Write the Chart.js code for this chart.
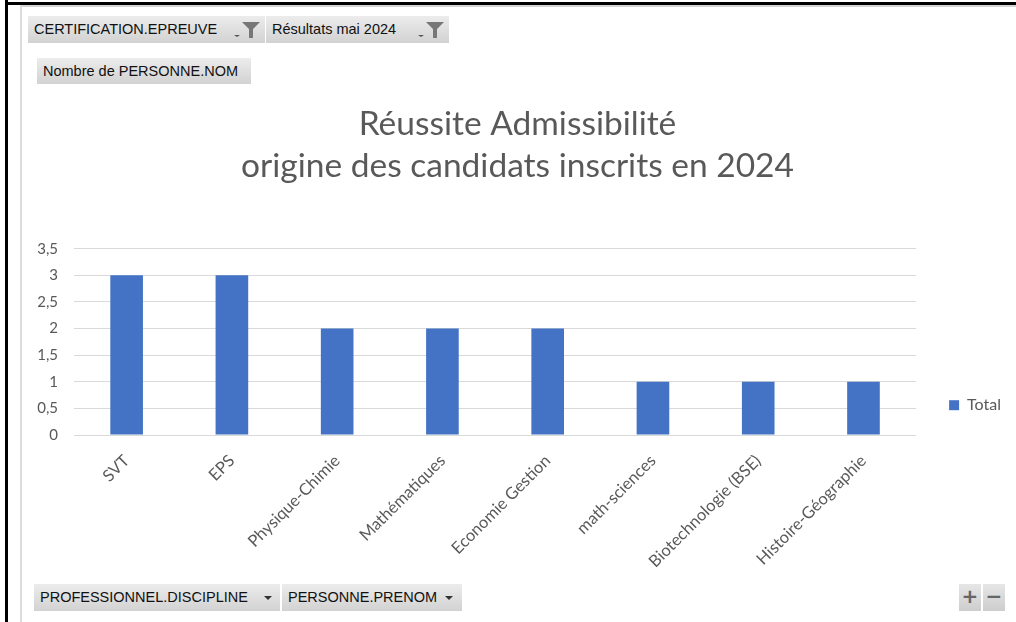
<!DOCTYPE html>
<html>
<head>
<meta charset="utf-8">
<script src="https://cdn.jsdelivr.net/npm/chart.js@4.4.1/dist/chart.umd.min.js"></script>
<style>
  html, body { margin: 0; padding: 0; background: #fff; }
  #page { position: relative; width: 1016px; height: 622px; overflow: hidden; background: #fff; }
  #chart { position: absolute; left: 0; top: 0; }
  .line { position: absolute; }
  .btn {
    position: absolute; height: 27px; line-height: 27px;
    background: linear-gradient(#ececec, #d2d2d2);
    font-family: "Liberation Sans", Arial, sans-serif; font-size: 14.5px; color: #111;
    padding-left: 6px; box-sizing: border-box; white-space: nowrap;
  }
  .btn svg { position: absolute; top: 6px; }
  .tri { position: absolute; top: 12px; width: 0; height: 0;
    border-left: 4px solid transparent; border-right: 4px solid transparent; border-top: 4px solid #333; }
  .pm { position: absolute; top: 584px; width: 22px; height: 27px; line-height: 26px; text-align: center;
    background: linear-gradient(#e6e6e6, #cdcdcd); color: #666; font: bold 20px "DejaVu Sans", sans-serif; }
</style>
</head>
<body>
<div id="page">
  <canvas id="chart" width="1016" height="622"></canvas>

  <div class="line" style="left:5px;top:0;width:3px;height:622px;background:#000"></div>
  <div class="line" style="left:5px;top:2px;width:1011px;height:3px;background:#000"></div>
  <div class="line" style="left:20px;top:5px;width:996px;height:2px;background:#d4d4d4"></div>
  <div class="line" style="left:20px;top:5px;width:2px;height:617px;background:#dcdcdc"></div>

  <div class="btn" style="left:28px;top:16px;width:237px">CERTIFICATION.EPREUVE
    <div class="tri" style="left:206px;top:19px;border-width:2px 3px 0 3px;border-top-color:#555"></div>
    <svg style="left:214px" width="18" height="16" viewBox="0 0 18 16"><polygon points="0,0 18,0 11,7 11,16 7,16 7,7" fill="#777"/></svg>
  </div>
  <div class="btn" style="left:266px;top:16px;width:183px">Résultats mai 2024
    <div class="tri" style="left:152px;top:19px;border-width:2px 3px 0 3px;border-top-color:#555"></div>
    <svg style="left:160px" width="18" height="16" viewBox="0 0 18 16"><polygon points="0,0 18,0 11,7 11,16 7,16 7,7" fill="#777"/></svg>
  </div>
  <div class="btn" style="left:37px;top:58px;width:214px;height:26px;line-height:26px">Nombre de PERSONNE.NOM</div>

  <div class="btn" style="left:34px;top:584px;width:246px">PROFESSIONNEL.DISCIPLINE
    <div class="tri" style="left:230px"></div>
  </div>
  <div class="btn" style="left:282px;top:584px;width:180px">PERSONNE.PRENOM
    <div class="tri" style="left:163px"></div>
  </div>
  <div class="pm" style="left:959px">+</div>
  <div class="pm" style="left:983px">&minus;</div>
</div>

<script>
// chart values
var disciplines = ['SVT', 'EPS', 'Physique-Chimie', 'Mathématiques', 'Economie Gestion',
                   'math-sciences', 'Biotechnologie (BSE)', 'Histoire-Géographie'];
var totals = [3, 3, 2, 2, 2, 1, 1, 1];
var titleLines = ['Réussite Admissibilité', 'origine des candidats inscrits en 2024'];
var seriesName = 'Total';

var grey = '#595959';
var ctx = document.getElementById('chart').getContext('2d');

var chart = new Chart(ctx, {
  type: 'bar',
  data: {
    labels: disciplines,
    datasets: [{
      label: seriesName,
      data: totals,
      backgroundColor: '#4472c4',
      borderWidth: 0,
      barPercentage: 0.31,
      categoryPercentage: 1
    }]
  },
  options: {
    responsive: false,
    animation: false,
    layout: { padding: { left: 24, right: 5, top: 0, bottom: 0 } },
    plugins: {
      title: {
        display: true,
        text: titleLines,
        color: grey,
        font: { family: 'Lato', size: 33.5, weight: 'normal', lineHeight: 1.25 },
        padding: { top: 103, bottom: 62 }
      },
      legend: {
        display: true,
        position: 'right',
        align: 'start',
        // empty legend title only pushes the item down next to the plot
        title: { display: true, text: ' ', font: { size: 1 }, padding: { top: 386, bottom: 0 } },
        labels: {
          boxWidth: 10, boxHeight: 10, padding: 10,
          color: grey,
          font: { family: 'Lato', size: 16 }
        }
      },
      tooltip: { enabled: false }
    },
    scales: {
      x: {
        grid: { display: false },
        border: { display: false },
        ticks: {
          color: grey,
          font: { family: 'Lato', size: 16.5 },
          minRotation: 45, maxRotation: 45,
          padding: 8,
          autoSkip: false
        },
        afterFit: function(s) { s.height = 187; }
      },
      y: {
        min: 0, max: 3.5,
        grid: { color: '#d9d9d9', drawTicks: false },
        border: { display: false },
        ticks: {
          stepSize: 0.5,
          color: grey,
          padding: 16,
          font: { family: 'Lato', size: 15 },
          callback: function(v) { return String(v).replace('.', ','); }
        },
        afterFit: function(s) { s.width = 50; }
      },
      gap: {
        position: 'right',
        grid: { display: false },
        border: { display: false },
        ticks: { display: false },
        afterFit: function(s) { s.width = 23; }
      }
    }
  }
});
</script>
</body>
</html>
